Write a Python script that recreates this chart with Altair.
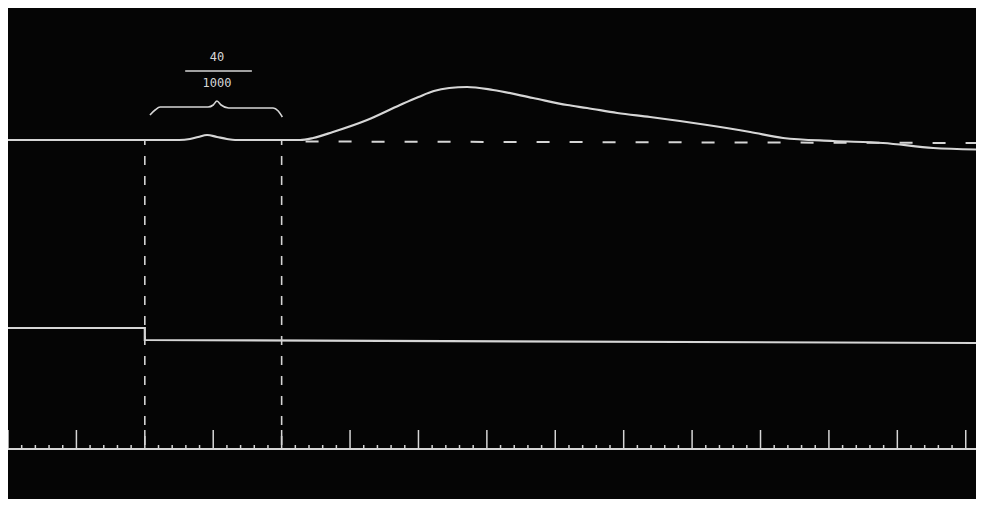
import altair as alt
import pandas as pd

# ---- data (time in ms, height in arbitrary trace units) ----
# muscle (top) trace
trace_t = [0, 50, 53.2, 55.6, 58.2, 61.1, 64.0, 66.4, 85.4, 89.2, 95.0, 105.0, 114.6,
           120.0, 124.5, 129.0, 134.2, 141.8, 153.5, 163.5, 169.3, 178.1, 187.7, 204.4, 217.0,
           226.6, 241.2, 255.8, 270.5, 283]
trace_v = [359, 359, 360, 362, 364, 362, 360, 359, 359, 361, 367, 379, 394,
           402, 408, 411, 412, 409, 401, 394, 391, 386, 382, 374, 367,
           361, 358, 356, 351, 349.5]

# dashed resting baseline
base_t = [87, 283]
base_v = [357.5, 356]

# stimulus (middle) trace: step at 40 ms
stim_t = [0, 40, 40, 283]
stim_v = [171, 171, 159, 156]

# time marker trace: majors every 20 ms, minors every 4 ms
time_v = 50
major_t = list(range(0, 281, 20))
minor_t = [t for t in range(0, 283, 4) if t % 20 != 0]
major_top = 69
minor_top = 54

# interval markers (40 ms .. 80 ms)
mark_t = [40, 80]
mark_top = 358
mark_bottom = 54

# brace over the interval
brace_t = [41.5, 43.0, 44.5, 58.5, 60.0, 61.1, 62.3, 64.5, 77.5, 79.0, 80.2]
brace_v = [384, 389, 392, 392, 394, 398, 394, 391, 391, 388, 382]

# fraction label
label_t = 61.1
num_text = "40"
den_text = "1000"
num_v = 442
den_v = 416
bar_t = [51.8, 71.3]
bar_v = 428

INK = "#d6d6d6"
BG = "#050505"

xs = alt.Scale(domain=[0, 283], nice=False, zero=False)
ys = alt.Scale(domain=[0, 491], nice=False, zero=False)

def X(f="t"):
    return alt.X(f"{f}:Q", scale=xs, axis=None)

def Y(f="v"):
    return alt.Y(f"{f}:Q", scale=ys, axis=None)

trace_df = pd.DataFrame({"t": trace_t, "v": trace_v})
base_df = pd.DataFrame({"t": base_t, "v": base_v})
stim_df = pd.DataFrame({"t": stim_t, "v": stim_v, "o": list(range(len(stim_t)))})
time_df = pd.DataFrame({"t": [0, 283], "v": [time_v, time_v]})
ticks_df = pd.DataFrame({
    "t": major_t + minor_t,
    "v0": [time_v] * (len(major_t) + len(minor_t)),
    "v1": [major_top] * len(major_t) + [minor_top] * len(minor_t),
})
marks_df = pd.DataFrame({"t": mark_t, "v0": [mark_bottom] * 2, "v1": [mark_top] * 2})
brace_df = pd.DataFrame({"t": brace_t, "v": brace_v})
bar_df = pd.DataFrame({"t": [bar_t[0]], "t2": [bar_t[1]], "v": [bar_v]})
text_df = pd.DataFrame({"t": [label_t, label_t], "v": [num_v, den_v], "s": [num_text, den_text]})

trace = alt.Chart(trace_df).mark_line(color=INK, strokeWidth=2.2, interpolate="monotone").encode(x=X(), y=Y())
base = alt.Chart(base_df).mark_line(color=INK, strokeWidth=2, strokeDash=[13, 20]).encode(x=X(), y=Y())
stim = alt.Chart(stim_df).mark_line(color=INK, strokeWidth=2.2).encode(x=X(), y=Y(), order="o:Q")
timeline = alt.Chart(time_df).mark_line(color=INK, strokeWidth=2.2).encode(x=X(), y=Y())
ticks = alt.Chart(ticks_df).mark_rule(color=INK, strokeWidth=1.5).encode(x=X(), y=Y("v0"), y2="v1:Q")
marks = alt.Chart(marks_df).mark_rule(color=INK, strokeWidth=1.6, strokeDash=[9, 11]).encode(x=X(), y=Y("v0"), y2="v1:Q")
brace = alt.Chart(brace_df).mark_line(color=INK, strokeWidth=1.6, interpolate="monotone").encode(x=X(), y=Y())
bar = alt.Chart(bar_df).mark_rule(color=INK, strokeWidth=1.6).encode(x=X(), x2="t2:Q", y=Y())
text = alt.Chart(text_df).mark_text(color=INK, font="DejaVu Sans Mono", fontSize=12, baseline="middle", align="center").encode(x=X(), y=Y(), text="s:N")

chart = alt.layer(trace, base, stim, timeline, ticks, marks, brace, bar, text).properties(
    width=968, height=491, background=BG, padding=0,
    autosize=alt.AutoSizeParams(type="none"),
).configure_view(stroke=None, fill=BG)

chart.save("out.html", embed_options={"renderer": "svg", "actions": False})
